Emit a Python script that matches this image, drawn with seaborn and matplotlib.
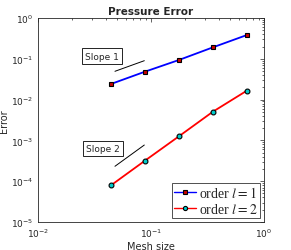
import numpy as np
import pandas as pd
import matplotlib
matplotlib.use("Agg")
import matplotlib.pyplot as plt
import seaborn as sns
from matplotlib.ticker import LogLocator, NullFormatter
from matplotlib.lines import Line2D

mesh_size = [0.0442, 0.0884, 0.1768, 0.3536, 0.7071]
err_order1 = [0.0241, 0.0483, 0.0935, 0.191, 0.383]
err_order2 = [7.9e-5, 0.000318, 0.00126, 0.00506, 0.0166]
series_labels = ["order $l=1$", "order $l=2$"]

sns.set_style("white")
plt.rcParams["font.family"] = ["DejaVu Sans"]
plt.rcParams["mathtext.fontset"] = "stix"

df = pd.DataFrame({
    "h": mesh_size * 2,
    "err": err_order1 + err_order2,
    "series": [series_labels[0]] * 5 + [series_labels[1]] * 5,
})

fig = plt.figure(figsize=(2.91, 2.51), dpi=100)
ax = fig.add_axes([0.1306, 0.1116, 0.7764, 0.8127])

sns.lineplot(data=df, x="h", y="err", hue="series", style="series",
             palette=["#0000ff", "#ff0000"], markers=["s", "o"], dashes=False,
             ax=ax, lw=1.3, markersize=3.5, markeredgecolor="black",
             markeredgewidth=0.8, legend=False)
lines = ax.get_lines()
lines[0].set_markerfacecolor("#cc0000")
lines[1].set_markerfacecolor("#00cccc")

ax.set_xscale("log")
ax.set_yscale("log")
ax.set_xlim(1e-2, 1e0)
ax.set_ylim(1e-5, 1e0)

ax.plot([0.048, 0.0873], [0.0494, 0.0898], color="black", lw=0.7)
ax.plot([0.048, 0.0873], [2.32e-4, 7.7e-4], color="black", lw=0.7)
bbox = dict(boxstyle="square,pad=0.35", fc="white", ec="black", lw=0.6)
ax.text(0.0368, 0.117, "Slope 1", fontsize=6.5, ha="center", va="center", bbox=bbox)
ax.text(0.0377, 6.3e-4, "Slope 2", fontsize=6.5, ha="center", va="center", bbox=bbox)

ax.set_title("Pressure Error", fontsize=7.5, fontweight="bold", pad=3)
ax.set_xlabel("Mesh size", fontsize=7, labelpad=1, color="#262626")
ax.set_ylabel("Error", fontsize=7, labelpad=1, color="#262626")

ax.xaxis.set_major_locator(LogLocator(base=10, numticks=10))
ax.yaxis.set_major_locator(LogLocator(base=10, numticks=10))
ax.xaxis.set_minor_locator(LogLocator(base=10, subs=np.arange(2, 10), numticks=20))
ax.yaxis.set_minor_locator(LogLocator(base=10, subs=np.arange(2, 10), numticks=20))
ax.xaxis.set_minor_formatter(NullFormatter())
ax.yaxis.set_minor_formatter(NullFormatter())
ax.tick_params(which="both", direction="in", top=True, right=True,
               labelsize=6.5, colors="#262626", width=0.5)
ax.tick_params(which="major", length=3)
ax.tick_params(which="minor", length=1.5)
for s in ax.spines.values():
    s.set_linewidth(0.6)
    s.set_color("#262626")

handles = [
    Line2D([], [], color="#0000ff", lw=1.0, marker="s", markersize=3,
           markerfacecolor="#cc0000", markeredgecolor="black", markeredgewidth=0.8),
    Line2D([], [], color="#ff0000", lw=1.0, marker="o", markersize=3,
           markerfacecolor="#00cccc", markeredgecolor="black", markeredgewidth=0.8),
]
leg = ax.legend(handles, series_labels, loc="lower right",
                prop={"family": "Liberation Serif", "size": 10},
                frameon=True, fancybox=False, edgecolor="black",
                handlelength=1.6, handletextpad=0.2, borderpad=0.15,
                labelspacing=0.1, borderaxespad=0.3)
leg.get_frame().set_linewidth(0.6)

fig.savefig("out.png", dpi=100)
